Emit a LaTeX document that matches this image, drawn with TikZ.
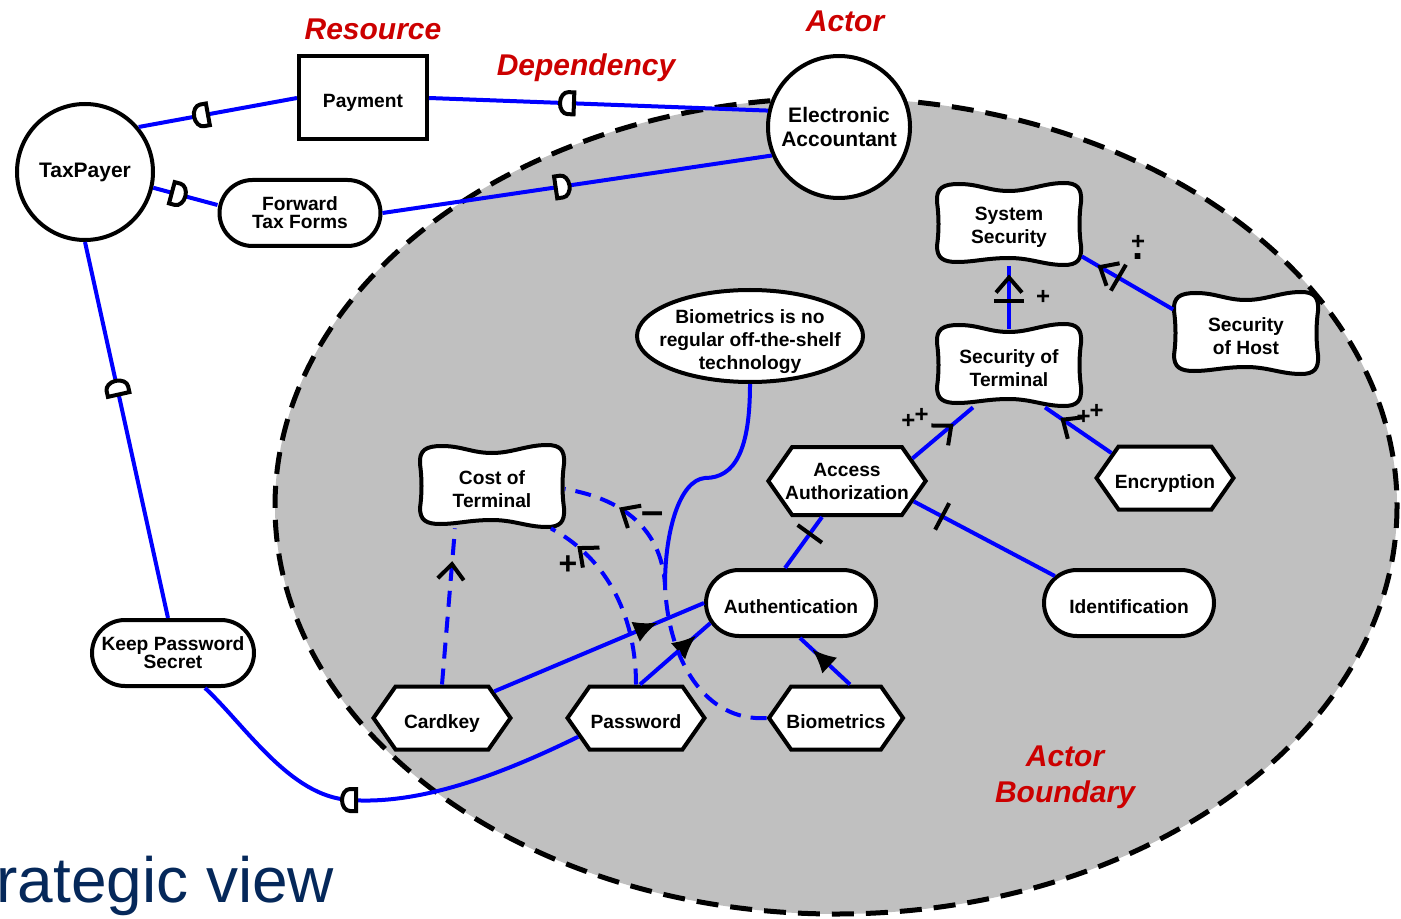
\documentclass[tikz,border=0pt]{standalone}
\usepackage{fontspec}
\setmainfont{Liberation Sans}
\usetikzlibrary{shapes.geometric,shapes.misc,shapes.symbols,arrows.meta,decorations.markings}
\definecolor{iblue}{RGB}{0,0,255}
\definecolor{igray}{RGB}{192,192,192}
\definecolor{ired}{RGB}{204,0,0}
\definecolor{inavy}{RGB}{5,40,90}
\newcommand{\istarfont}{\bfseries\fontsize{9.6}{11.5}\selectfont}
\newcommand{\tightfont}{\bfseries\fontsize{9.6}{9}\selectfont}

\begin{document}
\begin{tikzpicture}[x=0.5pt,y=-0.5pt]
\tikzstyle{every node}+=[inner sep=0pt]
\tikzstyle{oneline}=[text height=10pt,text depth=0pt]
\tikzstyle{actor}=[circle,draw,line width=2pt,fill=white,align=center,font=\bfseries\fontsize{10.5}{12}\selectfont]
\tikzstyle{resource}=[rectangle,draw,line width=2pt,fill=white,minimum width=64pt,minimum height=41.5pt,font=\istarfont]
\tikzstyle{goal}=[rounded rectangle,draw,line width=2pt,fill=white,minimum width=85pt,minimum height=33pt,align=center,font=\istarfont]
\tikzstyle{task}=[signal,signal to=east and west,signal pointer angle=110,draw,line width=2pt,fill=white,minimum width=68.5pt,minimum height=31.5pt,align=center,font=\istarfont]
\tikzstyle{softgoal}=[rectangle,minimum width=72.5pt,minimum height=39pt,yshift=-1.5pt,align=center,font=\istarfont]
\tikzstyle{belief}=[ellipse,draw,line width=2pt,fill=white,minimum width=113pt,minimum height=46pt,font=\istarfont]
\tikzstyle{tag}=[text=ired,align=center,font=\bfseries\itshape\fontsize{15}{18}\selectfont]
\tikzstyle{lnk}=[draw=iblue,line width=2pt]
\tikzstyle{dashlnk}=[lnk,dash pattern=on 8pt off 5pt]
\tikzstyle{sign}=[font=\bfseries\fontsize{16}{16}\selectfont]
\tikzstyle{smallsign}=[font=\bfseries\fontsize{12}{12}\selectfont]
\tikzset{
 meat/.style={postaction={decorate,decoration={markings,mark=at position #1 with {\arrow{Latex[length=12pt,width=11pt,color=black]}}}}},
 contr/.style={postaction={decorate,decoration={markings,mark=at position #1 with {\arrow{Straight Barb[length=7.5pt,width=13pt,color=black]}}}}},
 decomp/.style={postaction={decorate,decoration={markings,mark=at position #1 with {\draw[black,solid,line width=2pt] (0,-7.5pt) -- (0,7.5pt);}}}},
 dep/.pic={\draw[black,solid,line width=2pt,fill=white] (-6,-11) -- (0,-11) arc[start angle=-90,end angle=90,x radius=8,y radius=11] -- (-6,11) -- cycle;},
 cushion/.pic={\draw[black,solid,line width=2pt,fill=white] (-72,-22) .. controls (-73,-36) and (-66,-40) .. (-50,-40)
   .. controls (-30,-40) and (-20,-33) .. (0,-33) .. controls (20,-33) and (35,-41) .. (55,-41)
   .. controls (68,-41) and (73,-36) .. (72,-22) .. controls (70,-8) and (70,8) .. (72,22)
   .. controls (73,36) and (68,41) .. (55,41) .. controls (35,41) and (22,34) .. (0,34)
   .. controls (-22,34) and (-35,38) .. (-52,38) .. controls (-66,38) and (-72,34) .. (-72,22)
   .. controls (-70,8) and (-70,-8) .. cycle;}
}
\useasboundingbox (0,0) rectangle (1401,919);
\draw[dash pattern=on 11pt off 6pt,line width=2.5pt,fill=igray] (836,506) ellipse [x radius=561,y radius=408];

\node[actor,minimum size=71pt] (ea) at (839,127) {Electronic\\Accountant};
\node[actor,minimum size=68pt] (tax) at (85,172) {TaxPayer};
\node[resource,oneline] (pay) at (363,98) {Payment};
\node[goal,minimum width=80.5pt,font=\tightfont] (ftf) at (300,213) {Forward\\Tax Forms};
\node[goal,minimum width=81pt,font=\tightfont] (kps) at (173,653) {Keep Password\\Secret};
\node[belief] (belief) at (750,336) {\raisebox{-5.5pt}[0pt][0pt]{\makebox[0pt]{\begin{tabular}{@{}c@{}}Biometrics is no\\regular off-the-shelf\\technology\end{tabular}}}};
\pic at (1009,224) {cushion};
\node[softgoal] (sysSec) at (1009,224) {System\\Security};
\pic at (1009,365) {cushion};
\node[softgoal] (secTerm) at (1009,365) {Security of\\Terminal};
\pic at (1246,333) {cushion};
\node[softgoal] (secHost) at (1246,333) {Security\\of Host};
\pic at (492,486) {cushion};
\node[softgoal] (cost) at (492,486) {Cost of\\Terminal};
\node[task,minimum width=78pt,minimum height=34pt,inner xsep=-3.5pt] (aa) at (847,481) {Access\\Authorization};
\node[task,oneline,inner xsep=-2.75pt] (enc) at (1165,478) {Encryption};
\node[goal,oneline] (auth) at (791,603) {Authentication};
\node[goal,oneline] (ident) at (1129,603) {Identification};
\node[task,oneline] (card) at (442,718) {Cardkey};
\node[task,oneline] (pw) at (636,718) {Password};
\node[task,oneline,minimum width=67pt,inner xsep=-2.5pt] (bio) at (836,718) {Biometrics};

\node[tag,anchor=base] (lres) at (373,40) {Resource};
\node[tag,anchor=base] (lact) at (845,32) {Actor};
\node[tag,anchor=base] (ldep) at (586,76) {Dependency};
\node[tag] (lbound) at (1065,777) {Actor\\Boundary};
\node[anchor=base west,text=inavy,font=\fontsize{32}{38}\selectfont] (view) at (-4,902) {rategic view};

\draw[lnk] (pay.west) -- pic[pos=0.6,sloped,allow upside down] {dep} (tax.40);
\draw[lnk] (ea.167) -- pic[pos=0.59,sloped,allow upside down] {dep} (pay.east);
\draw[lnk] (tax.-13) -- pic[pos=0.38,sloped,allow upside down] {dep} ([yshift=4pt]ftf.west);
\draw[lnk] (ftf.east) -- pic[pos=0.46,sloped,allow upside down] {dep} (ea.203);
\draw[lnk] ([xshift=-2.5pt]kps.north) -- pic[pos=0.61,sloped,allow upside down] {dep} (tax.south);
\draw[lnk] (pw.198) .. controls (500,775) and (420,805) .. (350,800) coordinate (kd) .. controls (290,797) and (245,725) .. ([xshift=16pt]kps.south);
\pic[rotate=180] at (kd) {dep};

\draw[lnk,meat=0.78] (card.27) -- (auth.west);
\draw[lnk,meat=0.8] ([xshift=2pt]pw.north) -- (auth.194);
\draw[lnk,meat=0.76] ([xshift=7pt]bio.north) -- ([xshift=4.5pt]auth.south);

\draw[dashlnk,contr=0.79] (card.north) -- ([xshift=-18.5pt]cost.south);
\draw[dashlnk,contr=0.83] (pw.north) .. controls (636,620) and (610,560) .. ([xshift=-7pt]cost.south east);
\draw[dashlnk,contr=0.83] (bio.west) .. controls (705,722) and (668,660) .. (665,585) coordinate (bj) .. controls (662,535) and (630,500) .. (cost.east);
\draw[lnk] (belief.south) .. controls (750,450) and (735,478) .. (705,478) .. controls (680,480) and (665,530) .. (bj);
\node[sign] (pcost) at (568,565) {+};
\node[sign,font=\bfseries\fontsize{20}{20}\selectfont] (mcost) at (653,518) {–};

\draw[lnk,decomp=0.67] ([xshift=-3pt]auth.north) -- ([xshift=-12.5pt]aa.south);
\draw[lnk,decomp=0.8] (ident.160) -- (aa.-17);

\draw[lnk,contr=0.68] (aa.19) -- ([xshift=-18pt]secTerm.south);
\node[smallsign] (mk1) at (915,418) {+\kern-0.5pt\raisebox{3pt}{+}};
\draw[lnk,contr=0.77] (enc.155) -- ([xshift=18pt]secTerm.south);
\node[smallsign] (mk2) at (1090,414) {+\kern-0.5pt\raisebox{3pt}{+}};
\draw[lnk,contr=0.87,decomp=0.45] (secTerm.north) -- (sysSec.south);
\node[smallsign] (hp1) at (1043,297) {+};
\draw[lnk,contr=0.83,decomp=0.6] (secHost.160) -- (sysSec.-22);
\node[smallsign,align=center] (hp2) at (1138,247) {+\\[-7pt]\fontsize{20}{20}\selectfont .};
\end{tikzpicture}
\end{document}
